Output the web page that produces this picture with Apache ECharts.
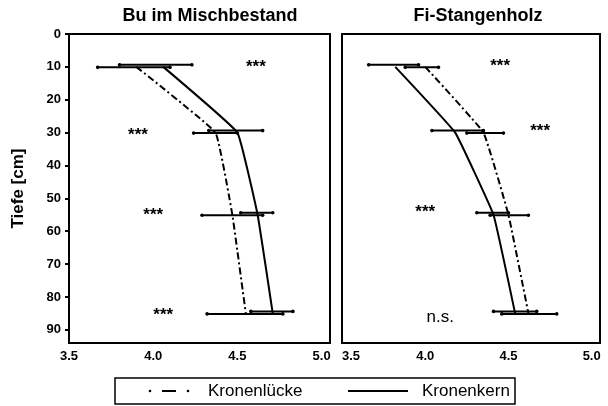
<!DOCTYPE html>
<html>
<head>
<meta charset="utf-8">
<script src="https://cdn.jsdelivr.net/npm/echarts@6/dist/echarts.min.js"></script>
<style>
  html, body { margin: 0; padding: 0; background: #fff; }
  #chart { width: 608px; height: 406px; }
</style>
</head>
<body>
<div id="chart"></div>
<script>
// Soil depths (cm) at which the profiles were sampled
const depths = [10, 30, 55, 85];

// Bu im Mischbestand
const buKernMean   = [4.06, 4.50, 4.62, 4.71];
const buKernLow    = [3.80, 4.33, 4.52, 4.58];
const buKernHigh   = [4.23, 4.65, 4.71, 4.83];
const buLueckeMean = [3.90, 4.37, 4.47, 4.55];
const buLueckeLow  = [3.67, 4.24, 4.29, 4.32];
const buLueckeHigh = [4.10, 4.50, 4.65, 4.77];

// Fi-Stangenholz
const fiKernMean   = [3.82, 4.18, 4.41, 4.54];
const fiKernLow    = [3.66, 4.04, 4.31, 4.41];
const fiKernHigh   = [3.96, 4.35, 4.50, 4.67];
const fiLueckeMean = [4.00, 4.35, 4.50, 4.62];
const fiLueckeLow  = [3.88, 4.25, 4.39, 4.46];
const fiLueckeHigh = [4.08, 4.47, 4.62, 4.79];

// Significance labels and where they sit (x value, depth)
const buSig      = ['***', '***', '***', '***'];
const buSigX     = [4.61, 3.91, 4.00, 4.06];
const buSigDepth = [9, 29.5, 54, 84.5];
const fiSig      = ['***', '***', '***', 'n.s.'];
const fiSigX     = [4.45, 4.69, 4.00, 4.09];
const fiSigDepth = [8.5, 28.5, 53, 86];

// Axis ticks
const xTicks = [3.5, 4.0, 4.5, 5.0];
const yTicks = [0, 10, 20, 30, 40, 50, 60, 70, 80, 90];

const panelTitles = ['Bu im Mischbestand', 'Fi-Stangenholz'];
const legendNames = ['Kronenlücke', 'Kronenkern'];

const FONT = '"Liberation Sans", Arial, Helvetica, sans-serif';
const DASHDOT = [7, 3, 2, 3];

const chart = echarts.init(document.getElementById('chart'), null, { renderer: 'canvas' });

function pairs(xs) { return xs.map((x, i) => [x, depths[i]]); }
function bars(lo, hi) { return lo.map((l, i) => [l, hi[i], depths[i]]); }

function errorBarSeries(lo, hi, axis, dy) {
  return {
    type: 'custom',
    xAxisIndex: axis, yAxisIndex: axis,
    silent: true,
    z: 3,
    encode: { x: [0, 1], y: 2 },
    data: bars(lo, hi),
    renderItem: function (params, api) {
      const a = api.coord([api.value(0), api.value(2)]);
      const b = api.coord([api.value(1), api.value(2)]);
      const y = a[1] + dy;
      return {
        type: 'group',
        children: [
          { type: 'line', shape: { x1: a[0], y1: y, x2: b[0], y2: y }, style: { stroke: '#000', lineWidth: 2 } },
          { type: 'circle', shape: { cx: a[0], cy: y, r: 1.8 }, style: { fill: '#000' } },
          { type: 'circle', shape: { cx: b[0], cy: y, r: 1.8 }, style: { fill: '#000' } }
        ]
      };
    }
  };
}

function sigSeries(labels, xs, ds, axis) {
  return {
    type: 'custom',
    xAxisIndex: axis, yAxisIndex: axis,
    silent: true,
    z: 4,
    encode: { x: 0, y: 1 },
    data: xs.map((x, i) => [x, ds[i], i]),
    renderItem: function (params, api) {
      const p = api.coord([api.value(0), api.value(1)]);
      const txt = labels[api.value(2)];
      const stars = txt.indexOf('*') >= 0;
      return {
        type: 'text',
        x: p[0], y: p[1] + (stars ? 4 : 1),
        style: {
          text: txt, fill: '#000',
          font: (stars ? 'bold 17px ' : '17px ') + FONT,
          align: 'center', verticalAlign: 'middle'
        }
      };
    }
  };
}

function lineSeries(name, means, axis, dashed) {
  return {
    name: name,
    type: 'line',
    xAxisIndex: axis, yAxisIndex: axis,
    data: pairs(means),
    showSymbol: false,
    smooth: 0.08,
    silent: true,
    z: 2,
    lineStyle: { color: '#000', width: 2, type: dashed ? DASHDOT : 'solid' }
  };
}

function xAxis(gridIndex, minAlign) {
  return {
    type: 'value', gridIndex: gridIndex,
    min: 3.5, max: 5.05,
    axisLine: { show: false },
    axisTick: { show: false },
    splitLine: { show: false },
    axisLabel: {
      customValues: xTicks,
      formatter: v => v.toFixed(1),
      color: '#000', fontFamily: FONT, fontWeight: 'bold', fontSize: 13,
      margin: 7,
      alignMinLabel: minAlign
    }
  };
}

function yAxis(gridIndex, showLabels) {
  return {
    type: 'value', gridIndex: gridIndex,
    inverse: true, min: 0, max: 94,
    axisLine: { show: false },
    splitLine: { show: false },
    axisTick: {
      show: showLabels, inside: false, length: 4,
      customValues: yTicks,
      lineStyle: { color: '#000', width: 2 }
    },
    axisLabel: {
      show: showLabels,
      customValues: yTicks,
      color: '#000', fontFamily: FONT, fontWeight: 'bold', fontSize: 13,
      margin: 8
    },
    name: showLabels ? 'Tiefe [cm]' : '',
    nameLocation: 'middle',
    nameRotate: 90,
    nameGap: 42,
    nameTextStyle: { color: '#000', fontFamily: FONT, fontSize: 17, fontWeight: 'bold' }
  };
}

const legendTop = 378, legendLeft = 115, legendW = 400, legendH = 26;
const legendMid = legendTop + legendH / 2;

const option = {
  backgroundColor: '#fff',
  animation: false,
  title: [
    { text: panelTitles[0], left: 205, top: 2, textAlign: 'center',
      textStyle: { fontFamily: FONT, fontSize: 18, fontWeight: 'bold', color: '#000' } },
    { text: panelTitles[1], left: 473, top: 2, textAlign: 'center',
      textStyle: { fontFamily: FONT, fontSize: 18, fontWeight: 'bold', color: '#000' } }
  ],
  grid: [
    { left: 69, top: 34, width: 261, height: 309, show: true, borderColor: '#000', borderWidth: 2, backgroundColor: 'transparent' },
    { left: 342, top: 34, width: 258, height: 309, show: true, borderColor: '#000', borderWidth: 2, backgroundColor: 'transparent' }
  ],
  xAxis: [xAxis(0, 'center'), xAxis(1, 'left')],
  yAxis: [yAxis(0, true), yAxis(1, false)],
  series: [
    lineSeries(legendNames[0], buLueckeMean, 0, true),
    lineSeries(legendNames[1], buKernMean, 0, false),
    errorBarSeries(buLueckeLow, buLueckeHigh, 0, 0.5),
    errorBarSeries(buKernLow, buKernHigh, 0, -2),
    sigSeries(buSig, buSigX, buSigDepth, 0),

    lineSeries(legendNames[0], fiLueckeMean, 1, true),
    lineSeries(legendNames[1], fiKernMean, 1, false),
    errorBarSeries(fiLueckeLow, fiLueckeHigh, 1, 0.5),
    errorBarSeries(fiKernLow, fiKernHigh, 1, -2),
    sigSeries(fiSig, fiSigX, fiSigDepth, 1)
  ],
  graphic: [
    // legend frame
    { type: 'rect', shape: { x: legendLeft, y: legendTop, width: legendW, height: legendH },
      style: { fill: 'none', stroke: '#000', lineWidth: 1.5 } },
    // Kronenlücke key: dot - dash - dot
    { type: 'circle', shape: { cx: 150, cy: legendMid, r: 1.3 }, style: { fill: '#000' } },
    { type: 'line', shape: { x1: 162, y1: legendMid, x2: 176, y2: legendMid }, style: { stroke: '#000', lineWidth: 2 } },
    { type: 'circle', shape: { cx: 188, cy: legendMid, r: 1.3 }, style: { fill: '#000' } },
    { type: 'text', x: 208, y: legendMid, style: { text: legendNames[0], font: '17px ' + FONT, fill: '#000', verticalAlign: 'middle' } },
    // Kronenkern key: solid line
    { type: 'line', shape: { x1: 348, y1: legendMid, x2: 408, y2: legendMid }, style: { stroke: '#000', lineWidth: 2 } },
    { type: 'text', x: 422, y: legendMid, style: { text: legendNames[1], font: '17px ' + FONT, fill: '#000', verticalAlign: 'middle' } }
  ]
};

chart.setOption(option);
</script>
</body>
</html>
